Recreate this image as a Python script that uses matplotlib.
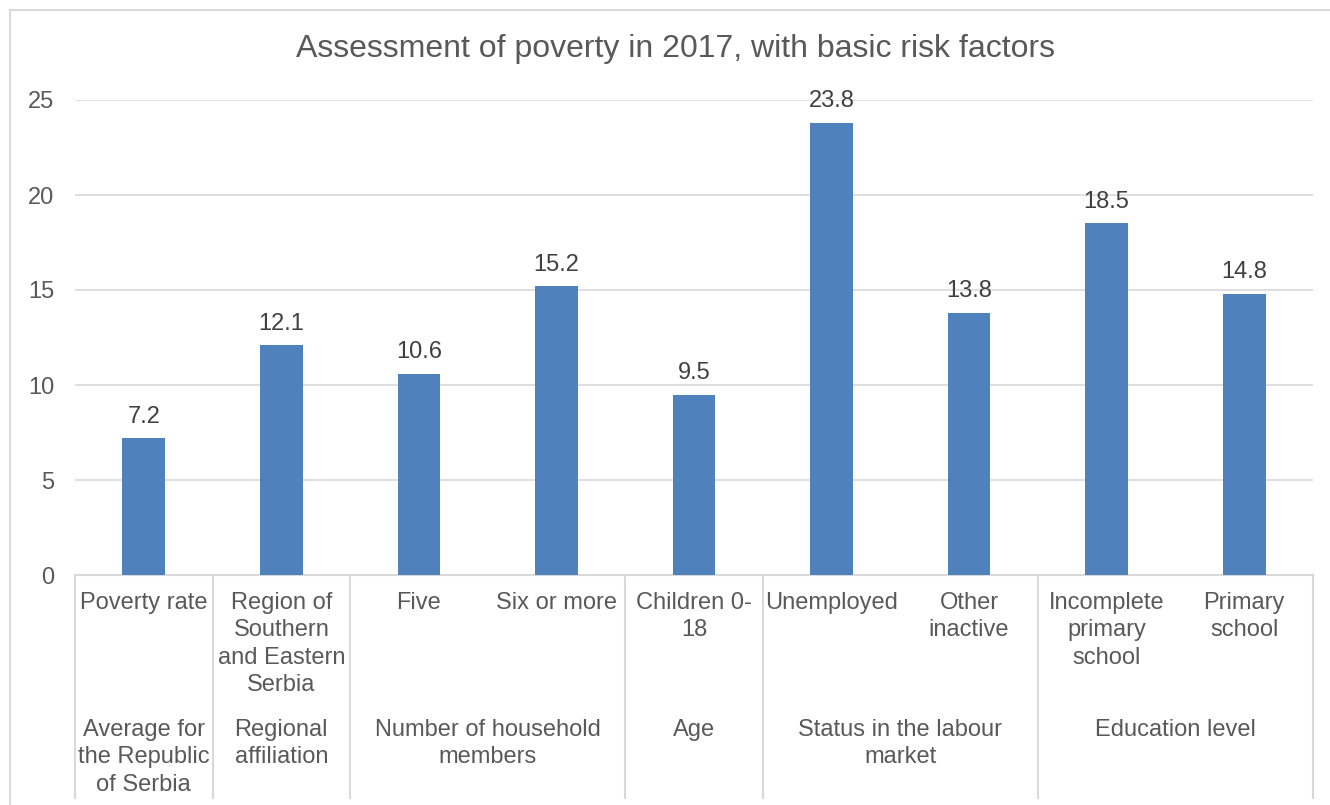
import numpy as np
import matplotlib.pyplot as plt
import matplotlib.transforms as mtransforms
from matplotlib.lines import Line2D

plt.rcParams['font.family'] = ['Liberation Sans', 'DejaVu Sans']

# data
categories = ['Poverty rate', 'Region of\nSouthern\nand Eastern\nSerbia', 'Five', 'Six or more',
              'Children 0-\n18', 'Unemployed', 'Other\ninactive', 'Incomplete\nprimary\nschool',
              'Primary\nschool']
values = [7.2, 12.1, 10.6, 15.2, 9.5, 23.8, 13.8, 18.5, 14.8]
groups = ['Average for\nthe Republic\nof Serbia', 'Regional\naffiliation',
          'Number of household\nmembers', 'Age', 'Status in the labour\nmarket', 'Education level']
group_sizes = [1, 1, 2, 1, 2, 2]

W, H = 1330, 805
fig = plt.figure(figsize=(W / 100, H / 100), dpi=100)
ax = fig.add_axes([75 / W, (H - 575) / H, (1313 - 75) / W, 475 / H])

x = np.arange(len(values))
ax.bar(x, values, width=0.31, color='#4F81BD', zorder=3)
for xi, v in zip(x, values):
    ax.text(xi, v + 0.55, '{:.1f}'.format(v), ha='center', va='bottom', fontsize=17, color='#404040')

ax.set_xlim(-0.5, len(values) - 0.5)
ax.set_ylim(0, 25)
ax.set_yticks([0, 5, 10, 15, 20, 25])
ax.yaxis.grid(True, color='#d9d9d9', linewidth=1.2)
ax.set_axisbelow(True)
ax.tick_params(axis='y', length=0, pad=15, labelsize=17, labelcolor='#595959')
ax.set_xticks([])
for s in ['top', 'right', 'left']:
    ax.spines[s].set_visible(False)
ax.spines['bottom'].set_color('#d9d9d9')
ax.spines['bottom'].set_linewidth(1.5)

trans = mtransforms.blended_transform_factory(ax.transData, ax.transAxes)
px = 1 / 475.0  # one pixel in axes fraction (vertical)

# first-level labels
for xi, c in zip(x, categories):
    ax.text(xi, -17 * px, c, transform=trans, ha='center', va='top', fontsize=17,
            color='#595959', linespacing=1.32, clip_on=False)

# group labels and separators
start = 0
bounds = [-0.5]
for g, n in zip(groups, group_sizes):
    center = start + (n - 1) / 2
    ax.text(center, -144 * px, g, transform=trans, ha='center', va='top', fontsize=17,
            color='#595959', linespacing=1.32, clip_on=False)
    start += n
    bounds.append(start - 0.5)
for b in bounds:
    ax.add_line(Line2D([b, b], [0, -223 * px], transform=trans, color='#d9d9d9',
                       linewidth=1.5, clip_on=False))

fig.text(676 / W, 1 - 49 / H, 'Assessment of poverty in 2017, with basic risk factors',
         ha='center', va='center', fontsize=23, color='#595959')

# chart border (left and top)
fig.add_artist(Line2D([10 / W, 10 / W], [0, 1 - 10 / H], transform=fig.transFigure,
                      color='#d9d9d9', linewidth=1.5))
fig.add_artist(Line2D([10 / W, 1], [1 - 10 / H, 1 - 10 / H], transform=fig.transFigure,
                      color='#d9d9d9', linewidth=1.5))

fig.savefig('out.png', dpi=100, facecolor='white')
